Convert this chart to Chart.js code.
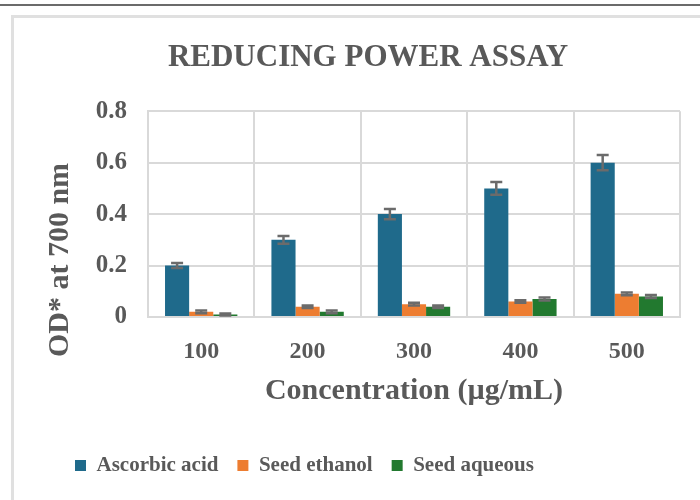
<!DOCTYPE html>
<html>
<head>
<meta charset="utf-8">
<title>Reducing Power Assay</title>
<script src="https://cdn.jsdelivr.net/npm/chart.js@4"></script>
<style>
  html, body { margin: 0; padding: 0; background: #fff; }
  #wrap { width: 700px; height: 500px; position: relative; }
</style>
</head>
<body>
<div id="wrap"><canvas id="assayChart" width="700" height="500"></canvas></div>
<script>
// concentrations (µg/mL) and mean OD at 700 nm with error values
const concentrations = ['100', '200', '300', '400', '500'];
const ascorbicAcid = [0.2, 0.3, 0.4, 0.5, 0.6];
const ascorbicErr = [0.01, 0.015, 0.02, 0.025, 0.03];
const seedEthanol = [0.02, 0.04, 0.05, 0.06, 0.09];
const ethanolErr = [0.005, 0.005, 0.005, 0.005, 0.005];
const seedAqueous = [0.01, 0.02, 0.04, 0.07, 0.08];
const aqueousErr = [0.004, 0.005, 0.005, 0.006, 0.006];

const textColor = '#595959';
const gridColor = '#d9d9d9';
const serif = '"Liberation Serif", "Times New Roman", serif';

// white page, dark rule on top and the light frame around the chart
const frame = {
  id: 'frame',
  beforeDraw(chart) {
    const ctx = chart.ctx;
    ctx.save();
    ctx.fillStyle = '#fff';
    ctx.fillRect(0, 0, chart.width, chart.height);
    ctx.fillStyle = '#6b6b6b';
    ctx.fillRect(0, 4, chart.width, 2);
    ctx.fillStyle = '#e0e0e0';
    ctx.fillRect(11, 15, chart.width - 11, 3);
    ctx.fillRect(11, 15, 3, chart.height - 15);
    ctx.restore();
  }
};

// vertical axis title, sits a bit lower than the plot centre
const yTitle = {
  id: 'yTitle',
  afterDraw(chart) {
    const ctx = chart.ctx;
    ctx.save();
    ctx.translate(60, 260);
    ctx.rotate(-Math.PI / 2);
    ctx.fillStyle = textColor;
    ctx.font = 'bold 30px ' + serif;
    ctx.textAlign = 'center';
    ctx.textBaseline = 'middle';
    ctx.fillText('OD* at 700 nm', 0, 0);
    ctx.restore();
  }
};

// whiskers with caps on each bar
const errorBars = {
  id: 'errorBars',
  afterDatasetsDraw(chart) {
    const ctx = chart.ctx;
    const y = chart.scales.y;
    ctx.save();
    ctx.strokeStyle = '#6b6b6b';
    ctx.lineWidth = 2.5;
    chart.data.datasets.forEach((ds, i) => {
      const meta = chart.getDatasetMeta(i);
      meta.data.forEach((bar, j) => {
        const v = ds.data[j];
        const e = ds.errors[j];
        const top = y.getPixelForValue(v + e);
        const bottom = y.getPixelForValue(v - e);
        const half = 6;
        ctx.beginPath();
        ctx.moveTo(bar.x, top);
        ctx.lineTo(bar.x, bottom);
        ctx.moveTo(bar.x - half, top);
        ctx.lineTo(bar.x + half, top);
        ctx.moveTo(bar.x - half, bottom);
        ctx.lineTo(bar.x + half, bottom);
        ctx.stroke();
      });
    });
    ctx.restore();
  }
};

new Chart(document.getElementById('assayChart'), {
  type: 'bar',
  data: {
    labels: concentrations,
    datasets: [
      { label: 'Ascorbic acid', data: ascorbicAcid, errors: ascorbicErr, backgroundColor: '#1f6a8b' },
      { label: 'Seed ethanol', data: seedEthanol, errors: ethanolErr, backgroundColor: '#ed7d31' },
      { label: 'Seed aqueous', data: seedAqueous, errors: aqueousErr, backgroundColor: '#22792f' }
    ]
  },
  options: {
    responsive: false,
    animation: false,
    layout: { padding: { left: 56, right: 20, top: 0, bottom: 14 } },
    datasets: { bar: { barPercentage: 1.0, categoryPercentage: 0.68 } },
    scales: {
      x: {
        grid: { color: gridColor, lineWidth: 2, drawTicks: false, offset: true },
        border: { color: gridColor, width: 2 },
        ticks: { color: textColor, padding: 20, font: { family: serif, size: 24, weight: 'bold' } },
        title: {
          display: true,
          text: 'Concentration (µg/mL)',
          color: textColor,
          padding: { top: 0, bottom: 27 },
          font: { family: serif, size: 30, weight: 'bold' }
        },
        afterFit(scale) { scale.height = 119; }
      },
      y: {
        min: 0,
        max: 0.8,
        grid: { color: gridColor, lineWidth: 2, drawTicks: false },
        border: { color: gridColor, width: 2 },
        ticks: {
          stepSize: 0.2,
          color: textColor,
          padding: 21,
          font: { family: serif, size: 25, weight: 'bold' },
          callback: (v) => (v === 0 ? '0' : v.toFixed(1))
        },
        afterFit(scale) { scale.width = 92; }
      }
    },
    plugins: {
      title: {
        display: true,
        text: 'REDUCING POWER ASSAY',
        color: textColor,
        padding: { top: 39, bottom: 35 },
        font: { family: serif, size: 31, weight: 'bold' }
      },
      legend: {
        position: 'bottom',
        align: 'start',
        labels: {
          color: textColor,
          boxWidth: 11,
          boxHeight: 11,
          padding: 19,
          font: { family: serif, size: 21, weight: 'bold' }
        }
      },
      tooltip: { enabled: false }
    }
  },
  plugins: [frame, yTitle, errorBars]
});
</script>
</body>
</html>
